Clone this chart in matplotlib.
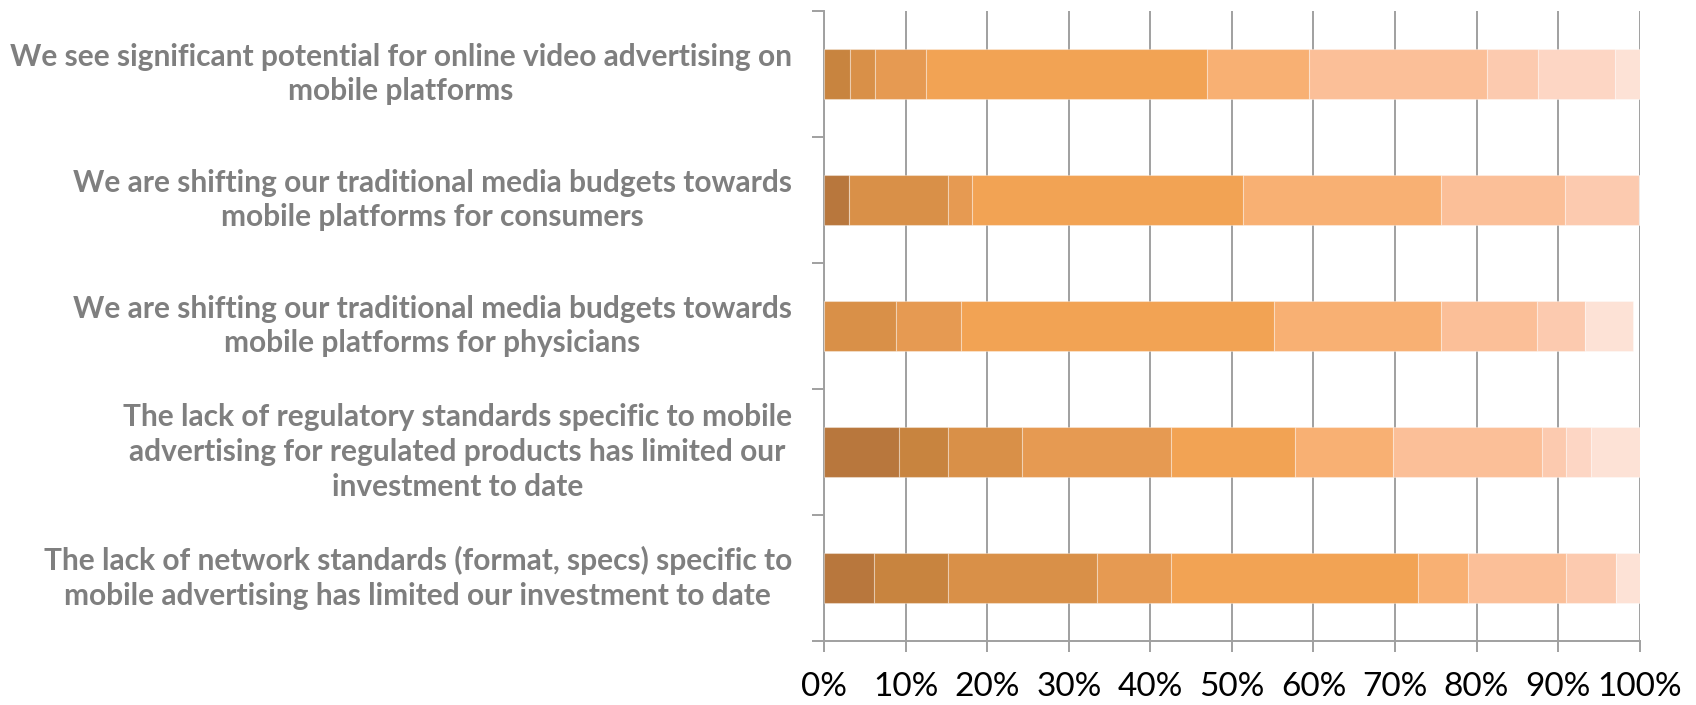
import numpy as np
import matplotlib.pyplot as plt
from matplotlib.ticker import FixedLocator, PercentFormatter

# statements, top to bottom
statements = [
    "We see significant potential for online video advertising on\nmobile platforms",
    "We are shifting our traditional media budgets towards\nmobile platforms for consumers",
    "We are shifting our traditional media budgets towards\nmobile platforms for physicians",
    "The lack of regulatory standards specific to mobile\nadvertising for regulated products has limited our\ninvestment to date",
    "The lack of network standards (format, specs) specific to\nmobile advertising has limited our investment to date",
]

# share of answers (%) for each of the 10 response levels, one list per level
level_1 = [0.0, 3.0, 0.0, 9.1, 6.1]
level_2 = [3.1, 0.0, 0.0, 6.1, 9.1]
level_3 = [3.1, 12.1, 8.8, 9.1, 18.2]
level_4 = [6.3, 3.0, 7.9, 18.2, 9.1]
level_5 = [34.4, 33.3, 38.4, 15.2, 30.3]
level_6 = [12.5, 24.2, 20.5, 12.1, 6.1]
level_7 = [21.9, 15.2, 11.8, 18.2, 12.1]
level_8 = [6.3, 9.1, 5.9, 3.0, 6.1]
level_9 = [9.4, 0.0, 0.0, 3.0, 0.0]
level_10 = [3.1, 0.0, 5.9, 6.0, 3.0]

levels = [level_1, level_2, level_3, level_4, level_5,
          level_6, level_7, level_8, level_9, level_10]
colors = ['#B8773D', '#C8843F', '#D99048', '#E69A52', '#F2A354',
          '#F8B073', '#FBBF98', '#FCCAAF', '#FDD6C4', '#FDE2D6']

fig = plt.figure(figsize=(16.96, 7.05), dpi=100)
ax = fig.add_axes([0.4861, 0.0908, 0.4806, 0.8936])

y = np.arange(len(statements))[::-1]
left = np.zeros(len(statements))
for vals, c in zip(levels, colors):
    vals = np.array(vals)
    ax.barh(y, vals, left=left, height=0.4, color=c,
            edgecolor=(1, 1, 1, 0.35), linewidth=0.8, zorder=3)
    left += vals

ax.set_xlim(0, 100)
ax.set_ylim(-0.5, len(statements) - 0.5)

# vertical gridlines
ax.set_xticks(np.arange(0, 101, 10))
ax.xaxis.set_major_formatter(PercentFormatter(decimals=0))
ax.grid(axis='x', color='#A0A0A0', linewidth=1.4, zorder=0)

# category separators on the y axis, labels drawn as text
ax.yaxis.set_major_locator(FixedLocator(np.arange(-0.5, len(statements), 1)))
ax.set_yticklabels([])
for yi, s in zip(y, statements):
    ax.text(-0.04, yi, s, transform=ax.get_yaxis_transform(), ha='right', va='center',
            multialignment='center', fontsize=21.5, fontweight='bold',
            color='#7F7F7F', family='Lato', linespacing=1.3)

for side in ['top', 'right']:
    ax.spines[side].set_visible(False)
for side in ['left', 'bottom']:
    ax.spines[side].set_color('#A0A0A0')
    ax.spines[side].set_linewidth(1.4)

ax.tick_params(axis='y', length=9, width=1.4, color='#A0A0A0')
ax.tick_params(axis='x', length=8, width=1.4, color='#A0A0A0', pad=14,
               labelsize=24, labelcolor='black')
for lbl in ax.get_xticklabels():
    lbl.set_family('Lato')

fig.savefig('out.png', dpi=100)
